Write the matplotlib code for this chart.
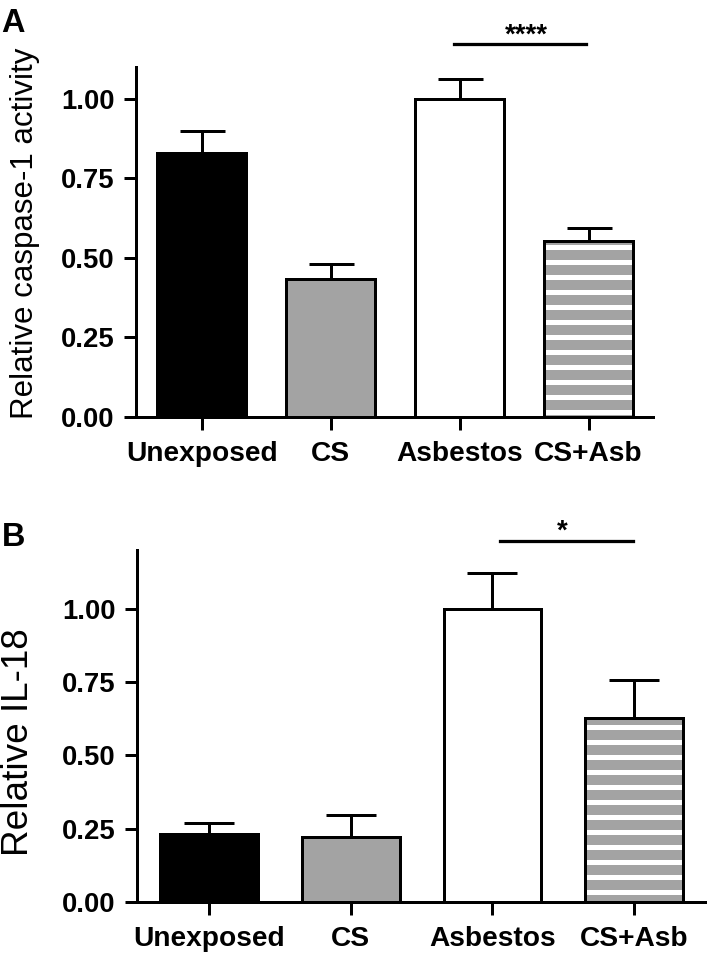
import numpy as np
from matplotlib import pyplot as plt

plt.rcParams['font.family'] = ['Liberation Sans', 'DejaVu Sans']
plt.rcParams['hatch.linewidth'] = 4.0

# data
groups = ['Unexposed', 'CS', 'Asbestos', 'CS+Asb']
caspase_mean = [0.83, 0.435, 1.00, 0.552]
caspase_err = [0.07, 0.047, 0.063, 0.042]
il18_mean = [0.23, 0.22, 1.00, 0.628]
il18_err = [0.04, 0.075, 0.123, 0.13]
yticks = [0.0, 0.25, 0.50, 0.75, 1.00]

face = ['black', '#a3a3a3', 'white', '#a3a3a3']
striped = [False, False, False, True]

DPI = 90
fig = plt.figure(figsize=(709 / DPI, 958 / DPI), dpi=DPI)
axA = fig.add_axes([0.1918, 0.5647, 0.7292, 0.3654])
axB = fig.add_axes([0.1932, 0.0585, 0.8011, 0.3674])


def draw_panel(ax, means, errs, ylim, ylabel, label_size, capsize, label_xy):
    x = np.arange(len(groups))
    for i in x:
        if striped[i]:
            # gray bar with white horizontal stripes
            ax.bar(i, means[i], 0.69, color=face[i], edgecolor='white',
                   hatch='-', linewidth=0, zorder=2)
            ax.bar(i, means[i], 0.69, facecolor='none', edgecolor='black',
                   linewidth=2.4, zorder=3)
        else:
            ax.bar(i, means[i], 0.69, color=face[i], edgecolor='black',
                   linewidth=2.4, zorder=2)
    ax.errorbar(x, means, yerr=[np.zeros(len(errs)), errs], fmt='none',
                ecolor='black', elinewidth=2.4, capsize=capsize,
                capthick=2.4, zorder=1)
    ax.set_xlim(-0.51, 3.5)
    ax.set_ylim(0, ylim)
    ax.set_xticks(x)
    ax.set_xticklabels(groups, fontsize=22.5, fontweight='bold')
    ax.set_yticks(yticks)
    ax.set_yticklabels(['%.2f' % t for t in yticks], fontsize=22,
                       fontweight='bold')
    ax.tick_params(axis='both', direction='out', length=10, width=2.4)
    ax.tick_params(axis='y', pad=7)
    ax.tick_params(axis='x', pad=9)
    for s in ['top', 'right']:
        ax.spines[s].set_visible(False)
    for s in ['left', 'bottom']:
        ax.spines[s].set_linewidth(2.4)
    ax.set_ylabel(ylabel, fontsize=label_size)
    ax.yaxis.set_label_coords(*label_xy)


draw_panel(axA, caspase_mean, caspase_err, 1.1, 'Relative caspase-1 activity',
           25, 18, (-0.186, 0.526))
draw_panel(axB, il18_mean, il18_err, 1.2, 'Relative IL-18', 29.5, 20,
           (-0.178, 0.455))

# significance bars
axA.plot([1.96, 2.98], [1.172, 1.172], color='black', lw=2.6, clip_on=False)
axA.annotate('****', (2.515, 1.172), xytext=(0, 1.5), textcoords='offset points',
             ha='center', va='baseline', fontsize=22, fontweight='bold',
             annotation_clip=False)
axB.plot([2.05, 2.99], [1.232, 1.232], color='black', lw=2.6, clip_on=False)
axB.annotate('*', (2.49, 1.232), xytext=(0, 1.5), textcoords='offset points',
             ha='center', va='baseline', fontsize=22, fontweight='bold',
             annotation_clip=False)

fig.text(0.002, 0.9666, 'A', fontsize=26, fontweight='bold', va='baseline')
fig.text(0.002, 0.430, 'B', fontsize=26, fontweight='bold', va='baseline')

fig.savefig('out.png', dpi=DPI)
